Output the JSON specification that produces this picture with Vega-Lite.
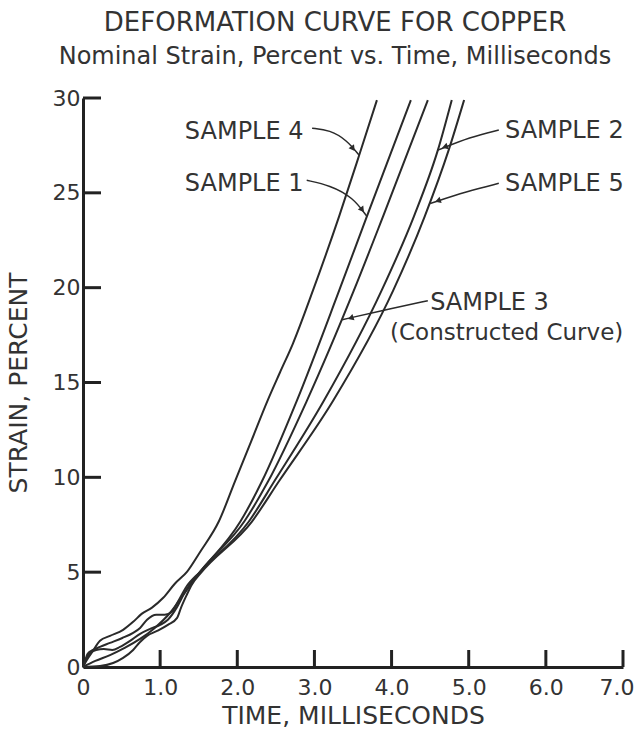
{
  "$schema": "https://vega.github.io/schema/vega-lite/v6.json",
  "width": 540,
  "height": 569,
  "autosize": {"type": "none"},
  "padding": {"left": 83, "top": 98, "right": 14, "bottom": 65},
  "background": "white",
  "title": {
    "text": "DEFORMATION CURVE FOR COPPER",
    "subtitle": "Nominal Strain, Percent vs. Time, Milliseconds",
    "font": "DejaVu Sans", "fontSize": 26, "fontWeight": "normal", "color": "#333333",
    "subtitleFont": "DejaVu Sans", "subtitleFontSize": 24, "subtitleColor": "#333333",
    "subtitlePadding": 9, "anchor": "middle", "frame": "group", "dx": -18, "offset": 18
  },
  "config": {
    "view": {"stroke": null},
    "axis": {
      "grid": false, "ticks": false,
      "domainColor": "#222222", "domainWidth": 3,
      "labelFont": "DejaVu Sans", "labelFontSize": 22, "labelColor": "#333333",
      "titleFont": "DejaVu Sans", "titleFontSize": 25, "titleFontWeight": "normal", "titleColor": "#333333",
      "labelOverlap": false, "labelFlush": false
    }
  },
  "datasets": {
    "curves": [
      {"s": "4", "t": 0, "v": 0}, {"s": "4", "t": 0.05, "v": 0.37}, {"s": "4", "t": 0.12, "v": 0.79}, {"s": "4", "t": 0.22, "v": 1.38},
      {"s": "4", "t": 0.35, "v": 1.64}, {"s": "4", "t": 0.52, "v": 1.96}, {"s": "4", "t": 0.65, "v": 2.38}, {"s": "4", "t": 0.76, "v": 2.80},
      {"s": "4", "t": 0.89, "v": 3.12}, {"s": "4", "t": 1.04, "v": 3.65}, {"s": "4", "t": 1.19, "v": 4.39}, {"s": "4", "t": 1.35, "v": 5.03},
      {"s": "4", "t": 1.52, "v": 6.08}, {"s": "4", "t": 1.76, "v": 7.67}, {"s": "4", "t": 1.97, "v": 9.79}, {"s": "4", "t": 2.18, "v": 11.90},
      {"s": "4", "t": 2.39, "v": 14.02}, {"s": "4", "t": 2.55, "v": 15.50}, {"s": "4", "t": 2.72, "v": 17.04}, {"s": "4", "t": 2.98, "v": 19.84},
      {"s": "4", "t": 3.32, "v": 23.76}, {"s": "4", "t": 3.58, "v": 26.98}, {"s": "4", "t": 3.81, "v": 29.89},

      {"s": "1", "t": 0, "v": 0}, {"s": "1", "t": 0.04, "v": 0.42}, {"s": "1", "t": 0.09, "v": 0.74}, {"s": "1", "t": 0.17, "v": 0.90},
      {"s": "1", "t": 0.27, "v": 0.95}, {"s": "1", "t": 0.38, "v": 0.90}, {"s": "1", "t": 0.48, "v": 1.06}, {"s": "1", "t": 0.61, "v": 1.38},
      {"s": "1", "t": 0.74, "v": 1.75}, {"s": "1", "t": 0.87, "v": 2.01}, {"s": "1", "t": 1.00, "v": 2.22}, {"s": "1", "t": 1.10, "v": 2.49},
      {"s": "1", "t": 1.22, "v": 3.17}, {"s": "1", "t": 1.31, "v": 3.86}, {"s": "1", "t": 1.40, "v": 4.44}, {"s": "1", "t": 1.52, "v": 5.03},
      {"s": "1", "t": 2.04, "v": 7.67}, {"s": "1", "t": 2.32, "v": 9.79}, {"s": "1", "t": 2.77, "v": 14.02}, {"s": "1", "t": 3.32, "v": 19.84},
      {"s": "1", "t": 3.68, "v": 23.76}, {"s": "1", "t": 4.25, "v": 29.89},

      {"s": "3", "t": 0, "v": 0}, {"s": "3", "t": 0.16, "v": 0.32}, {"s": "3", "t": 0.35, "v": 0.63}, {"s": "3", "t": 0.54, "v": 1.01},
      {"s": "3", "t": 0.74, "v": 1.48}, {"s": "3", "t": 0.93, "v": 2.06}, {"s": "3", "t": 1.13, "v": 2.86}, {"s": "3", "t": 1.32, "v": 3.92},
      {"s": "3", "t": 1.52, "v": 5.03}, {"s": "3", "t": 2.09, "v": 7.67}, {"s": "3", "t": 2.40, "v": 9.79}, {"s": "3", "t": 2.90, "v": 14.02},
      {"s": "3", "t": 3.51, "v": 19.84}, {"s": "3", "t": 3.89, "v": 23.76}, {"s": "3", "t": 4.47, "v": 29.89},

      {"s": "2", "t": 0, "v": 0}, {"s": "2", "t": 0.03, "v": 0.37}, {"s": "2", "t": 0.06, "v": 0.69}, {"s": "2", "t": 0.13, "v": 0.90},
      {"s": "2", "t": 0.22, "v": 1.06}, {"s": "2", "t": 0.35, "v": 1.27}, {"s": "2", "t": 0.51, "v": 1.53}, {"s": "2", "t": 0.65, "v": 1.80},
      {"s": "2", "t": 0.74, "v": 2.06}, {"s": "2", "t": 0.83, "v": 2.49}, {"s": "2", "t": 0.95, "v": 2.75}, {"s": "2", "t": 1.06, "v": 2.75},
      {"s": "2", "t": 1.15, "v": 2.91}, {"s": "2", "t": 1.23, "v": 3.44}, {"s": "2", "t": 1.34, "v": 4.23}, {"s": "2", "t": 1.52, "v": 5.03},
      {"s": "2", "t": 2.15, "v": 7.67}, {"s": "2", "t": 2.48, "v": 9.79}, {"s": "2", "t": 3.12, "v": 14.02}, {"s": "2", "t": 3.87, "v": 19.84},
      {"s": "2", "t": 4.29, "v": 23.76}, {"s": "2", "t": 4.60, "v": 27.25}, {"s": "2", "t": 4.78, "v": 29.89},

      {"s": "5", "t": 0, "v": 0}, {"s": "5", "t": 0.22, "v": 0.05}, {"s": "5", "t": 0.39, "v": 0.21}, {"s": "5", "t": 0.52, "v": 0.48},
      {"s": "5", "t": 0.65, "v": 0.90}, {"s": "5", "t": 0.74, "v": 1.32}, {"s": "5", "t": 0.83, "v": 1.64}, {"s": "5", "t": 0.96, "v": 1.90},
      {"s": "5", "t": 1.10, "v": 2.22}, {"s": "5", "t": 1.22, "v": 2.59}, {"s": "5", "t": 1.27, "v": 3.12}, {"s": "5", "t": 1.34, "v": 3.76},
      {"s": "5", "t": 1.41, "v": 4.34}, {"s": "5", "t": 1.52, "v": 4.92}, {"s": "5", "t": 2.19, "v": 7.67}, {"s": "5", "t": 2.54, "v": 9.79},
      {"s": "5", "t": 3.24, "v": 14.02}, {"s": "5", "t": 4.02, "v": 19.84}, {"s": "5", "t": 4.43, "v": 23.76}, {"s": "5", "t": 4.74, "v": 27.25},
      {"s": "5", "t": 4.94, "v": 29.89}
    ],
    "leaders": [
      {"s": "4", "t": 2.97, "v": 28.41}, {"s": "4", "t": 3.20, "v": 28.31}, {"s": "4", "t": 3.42, "v": 27.78}, {"s": "4", "t": 3.58, "v": 26.98},
      {"s": "1", "t": 2.90, "v": 25.66}, {"s": "1", "t": 3.20, "v": 25.40}, {"s": "1", "t": 3.50, "v": 24.76}, {"s": "1", "t": 3.68, "v": 23.76},
      {"s": "2", "t": 5.39, "v": 28.31}, {"s": "2", "t": 5.02, "v": 27.94}, {"s": "2", "t": 4.60, "v": 27.25},
      {"s": "5", "t": 5.39, "v": 25.50}, {"s": "5", "t": 4.98, "v": 25.08}, {"s": "5", "t": 4.50, "v": 24.44},
      {"s": "3", "t": 4.47, "v": 19.31}, {"s": "3", "t": 3.98, "v": 18.89}, {"s": "3", "t": 3.36, "v": 18.31}
    ],
    "arrows": [
      {"s": "4", "dir": "down", "t": 3.50, "v": 27.33},
      {"s": "1", "dir": "down", "t": 3.62, "v": 24.10},
      {"s": "2", "dir": "left", "t": 4.69, "v": 27.42},
      {"s": "5", "dir": "left", "t": 4.60, "v": 24.58},
      {"s": "3", "dir": "left", "t": 3.47, "v": 18.40}
    ],
    "xticks": [{"t": 1}, {"t": 2}, {"t": 3}, {"t": 4}, {"t": 5}, {"t": 6}, {"t": 7}],
    "yticks": [{"v": 5}, {"v": 10}, {"v": 15}, {"v": 20}, {"v": 25}, {"v": 30}],
    "labels": [
      {"label": "SAMPLE 4", "t": 1.32, "v": 28.23},
      {"label": "SAMPLE 1", "t": 1.32, "v": 25.48},
      {"label": "SAMPLE 2", "t": 5.47, "v": 28.28},
      {"label": "SAMPLE 5", "t": 5.47, "v": 25.48},
      {"label": "SAMPLE 3", "t": 4.50, "v": 19.18}
    ],
    "notes": [
      {"label": "(Constructed Curve)", "t": 3.98, "v": 17.63}
    ]
  },
  "layer": [
    {
      "data": {"name": "curves"},
      "mark": {"type": "line", "stroke": "#2a2a2a", "strokeWidth": 2, "interpolate": "monotone"},
      "encoding": {
        "x": {"field": "t", "type": "quantitative", "scale": {"domain": [0, 7], "nice": false, "zero": false},
          "axis": {"values": [0, 1, 2, 3, 4, 5, 6, 7], "labelExpr": "datum.value == 0 ? '0' : format(datum.value, '.1f')",
            "title": "TIME, MILLISECONDS", "labelPadding": 10, "titlePadding": 5,
            "labelAlign": {"condition": {"test": "datum.value == 7", "value": "right"}, "value": "center"},
            "labelOffset": {"condition": {"test": "datum.value == 7", "value": 11}, "value": 0}}},
        "y": {"field": "v", "type": "quantitative", "scale": {"domain": [0, 30], "nice": false},
          "axis": {"values": [0, 5, 10, 15, 20, 25, 30], "title": "STRAIN, PERCENT", "labelPadding": 3, "titlePadding": 21}},
        "detail": {"field": "s"}
      }
    },
    {
      "data": {"name": "xticks"},
      "mark": {"type": "tick", "orient": "vertical", "color": "#222222", "size": 17, "thickness": 3, "yOffset": -8.5, "opacity": 1},
      "encoding": {
        "x": {"field": "t", "type": "quantitative"},
        "y": {"datum": 0}
      }
    },
    {
      "data": {"name": "yticks"},
      "mark": {"type": "tick", "orient": "horizontal", "color": "#222222", "size": 18, "thickness": 3, "xOffset": 9, "opacity": 1},
      "encoding": {
        "y": {"field": "v", "type": "quantitative"},
        "x": {"datum": 0}
      }
    },
    {
      "data": {"name": "leaders"},
      "mark": {"type": "line", "stroke": "#2a2a2a", "strokeWidth": 1.5, "interpolate": "basis"},
      "encoding": {
        "x": {"field": "t", "type": "quantitative"},
        "y": {"field": "v", "type": "quantitative"},
        "detail": {"field": "s"}
      }
    },
    {
      "data": {"name": "arrows"},
      "transform": [{"filter": "datum.dir == 'down'"}],
      "mark": {"type": "point", "shape": "triangle-right", "filled": true, "color": "#2a2a2a", "size": 45, "angle": 54, "opacity": 1},
      "encoding": {
        "x": {"field": "t", "type": "quantitative"},
        "y": {"field": "v", "type": "quantitative"}
      }
    },
    {
      "data": {"name": "arrows"},
      "transform": [{"filter": "datum.dir == 'left'"}],
      "mark": {"type": "point", "shape": "triangle-right", "filled": true, "color": "#2a2a2a", "size": 45, "angle": 162, "opacity": 1},
      "encoding": {
        "x": {"field": "t", "type": "quantitative"},
        "y": {"field": "v", "type": "quantitative"}
      }
    },
    {
      "data": {"name": "labels"},
      "mark": {"type": "text", "align": "left", "baseline": "middle", "font": "DejaVu Sans", "fontSize": 24, "color": "#333333"},
      "encoding": {
        "x": {"field": "t", "type": "quantitative"},
        "y": {"field": "v", "type": "quantitative"},
        "text": {"field": "label"}
      }
    },
    {
      "data": {"name": "notes"},
      "mark": {"type": "text", "align": "left", "baseline": "middle", "font": "DejaVu Sans", "fontSize": 23, "color": "#333333"},
      "encoding": {
        "x": {"field": "t", "type": "quantitative"},
        "y": {"field": "v", "type": "quantitative"},
        "text": {"field": "label"}
      }
    }
  ]
}
